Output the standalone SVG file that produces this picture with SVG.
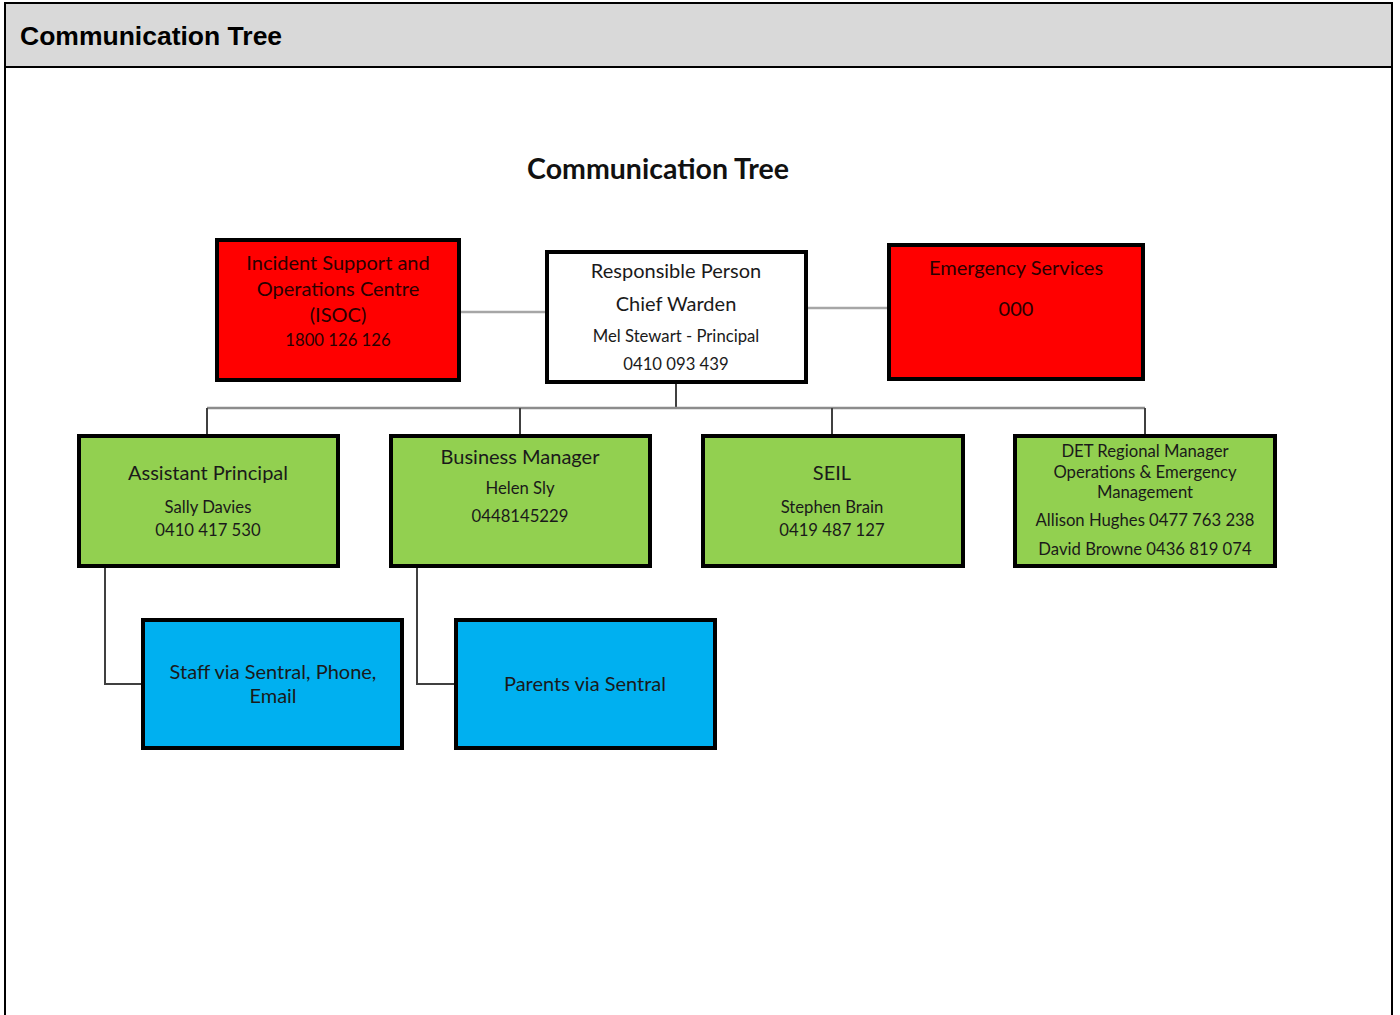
<svg xmlns="http://www.w3.org/2000/svg" width="1400" height="1015" viewBox="0 0 1400 1015">
<style>
.hdr{font-family:"Liberation Sans",Arial,sans-serif;font-weight:bold;font-size:26.5px;fill:#000}
.t{font-family:Lato,"Open Sans",sans-serif;text-anchor:middle;fill:#1a1a1a}
.big{font-size:20px}
.sm{font-size:16.7px}
.red text{fill:#2a0000}
.box{stroke:#000;stroke-width:4}
.r{fill:#ff0000}
.w{fill:#ffffff}
.g{fill:#92d050}
.b{fill:#00b0f0}
.lt{stroke:#a6a6a6;stroke-width:2.5;fill:none}
.dk{stroke:#404040;stroke-width:2;fill:none}
</style>
<rect x="0" y="0" width="1400" height="1015" fill="#fff"/>
<rect x="5" y="3" width="1387" height="64" fill="#d9d9d9"/>
<path d="M5,1015 V3 H1392 V1015 M5,67 H1392" stroke="#000" stroke-width="2" fill="none"/>
<text class="hdr" x="20" y="45">Communication Tree</text>
<text class="t" x="658" y="179" style="font-size:28.5px;font-weight:bold;fill:#111">Communication Tree</text>

<g id="connectors">
<path class="lt" d="M459,312 H546"/>
<path class="lt" d="M806,308 H889"/>
<path class="dk" d="M676,382 V408"/>
<path class="lt" d="M207,408 H1145" style="stroke:#8c8c8c"/>
<path class="dk" d="M207,408 V435 M520,408 V435 M832,408 V435 M1145,408 V435"/>
<path class="dk" d="M105,566 V684 H142"/>
<path class="dk" d="M417,566 V684 H455"/>
</g>

<g id="isoc" class="red">
<rect class="box r" x="217" y="240" width="242" height="140"/>
<text class="t big" x="338" y="270">Incident Support and</text>
<text class="t big" x="338" y="296">Operations Centre</text>
<text class="t big" x="338" y="322">(ISOC)</text>
<text class="t sm" x="338" y="346">1800 126 126</text>
</g>

<g id="responsible">
<rect class="box w" x="547" y="252" width="259" height="130"/>
<text class="t big" x="676" y="278">Responsible Person</text>
<text class="t big" x="676" y="311">Chief Warden</text>
<text class="t sm" x="676" y="342">Mel Stewart - Principal</text>
<text class="t sm" x="676" y="370">0410 093 439</text>
</g>

<g id="emergency" class="red">
<rect class="box r" x="889" y="245" width="254" height="134"/>
<text class="t big" x="1016" y="275">Emergency Services</text>
<text class="t big" x="1016" y="316">000</text>
</g>

<g id="assistant">
<rect class="box g" x="79" y="436" width="259" height="130"/>
<text class="t big" x="208" y="480">Assistant Principal</text>
<text class="t sm" x="208" y="513">Sally Davies</text>
<text class="t sm" x="208" y="536">0410 417 530</text>
</g>

<g id="business">
<rect class="box g" x="391" y="436" width="259" height="130"/>
<text class="t big" x="520" y="464">Business Manager</text>
<text class="t sm" x="520" y="494">Helen Sly</text>
<text class="t sm" x="520" y="522">0448145229</text>
</g>

<g id="seil">
<rect class="box g" x="703" y="436" width="260" height="130"/>
<text class="t big" x="832" y="480">SEIL</text>
<text class="t sm" x="832" y="513">Stephen Brain</text>
<text class="t sm" x="832" y="536">0419 487 127</text>
</g>

<g id="det">
<rect class="box g" x="1015" y="436" width="260" height="130"/>
<text class="t sm" x="1145" y="457">DET Regional Manager</text>
<text class="t sm" x="1145" y="478">Operations &amp; Emergency</text>
<text class="t sm" x="1145" y="498">Management</text>
<text class="t sm" x="1145" y="526">Allison Hughes 0477 763 238</text>
<text class="t sm" x="1145" y="555">David Browne 0436 819 074</text>
</g>

<g id="staff">
<rect class="box b" x="143" y="620" width="259" height="128"/>
<text class="t big" x="273" y="679">Staff via Sentral, Phone,</text>
<text class="t big" x="273" y="703">Email</text>
</g>

<g id="parents">
<rect class="box b" x="456" y="620" width="259" height="128"/>
<text class="t big" x="585" y="691">Parents via Sentral</text>
</g>
</svg>
